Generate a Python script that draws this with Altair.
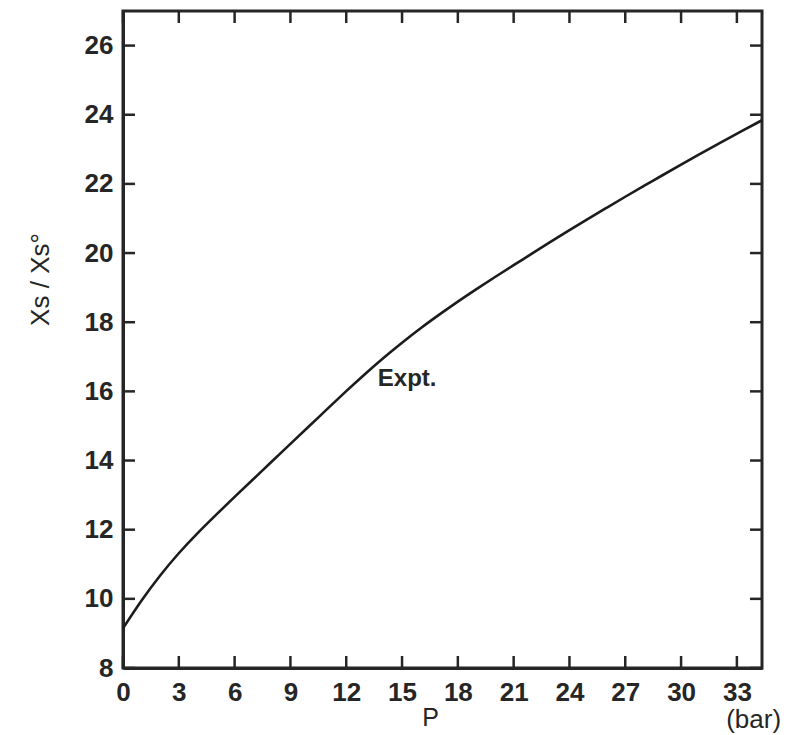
import altair as alt
import pandas as pd

# Curve
P_VALUES = [0, 1, 2, 3, 4, 5, 6, 7, 8, 9, 10, 11, 12, 13, 14, 15, 16, 17, 18, 19, 20,
            21, 22, 23, 24, 25, 26, 27, 28, 29, 30, 31, 32, 33, 34.35]
RATIO = [9.15, 9.97, 10.69, 11.33, 11.9, 12.43, 12.95, 13.46, 13.97, 14.48, 14.99, 15.5,
         16.01, 16.5, 16.97, 17.41, 17.83, 18.22, 18.6, 18.96, 19.31, 19.65, 19.99, 20.33,
         20.66, 20.99, 21.31, 21.63, 21.94, 22.25, 22.56, 22.86, 23.16, 23.45, 23.84]

X_TICKS = [0, 3, 6, 9, 12, 15, 18, 21, 24, 27, 30, 33]
Y_TICKS = [8, 10, 12, 14, 16, 18, 20, 22, 24, 26]
X_DOMAIN = [0, 34.35]
Y_DOMAIN = [8, 27]

W, H = 639, 657
INK = "#262626"
FONT = "Liberation Sans"
TICK_LEN = 12

curve = pd.DataFrame({"P": P_VALUES, "R": RATIO})
xt = pd.DataFrame({"P": X_TICKS})
yt = pd.DataFrame({"R": Y_TICKS})

xs = alt.Scale(domain=X_DOMAIN, nice=False, zero=False)
ys = alt.Scale(domain=Y_DOMAIN, nice=False, zero=False)

line = alt.Chart(curve).mark_line(color="#1c1c1c", strokeWidth=2.6, interpolate="basis").encode(
    x=alt.X("P:Q", scale=xs, axis=alt.Axis(
        values=X_TICKS, title="P", ticks=False, labelPadding=11, grid=False,
        domainColor=INK, domainWidth=3, labelFont=FONT, labelFontSize=26,
        labelFontWeight="bold", labelColor=INK, titleFont=FONT, titleFontSize=25,
        titleFontWeight="normal", titleColor=INK, titleX=307, titleY=49,
        titleBaseline="middle", labelFlush=False)),
    y=alt.Y("R:Q", scale=ys, axis=alt.Axis(
        values=Y_TICKS, title="Xs / Xs°", ticks=False, labelPadding=10, grid=False,
        domainColor=INK, domainWidth=3, labelFont=FONT, labelFontSize=26,
        labelFontWeight="bold", labelColor=INK, titleFont=FONT, titleFontSize=26,
        titleFontWeight="normal", titleColor=INK, titleAngle=270, titleX=-83, titleY=268,
        titleAlign="center", titleBaseline="middle", labelFlush=False)),
)

bottom_ticks = alt.Chart(xt).mark_rule(color=INK, strokeWidth=2.5).encode(
    x="P:Q", y=alt.value(H), y2=alt.value(H - TICK_LEN))
top_ticks = alt.Chart(xt).mark_rule(color=INK, strokeWidth=2.5).encode(
    x="P:Q", y=alt.value(0), y2=alt.value(TICK_LEN))
left_ticks = alt.Chart(yt).mark_rule(color=INK, strokeWidth=2.5).encode(
    y="R:Q", x=alt.value(0), x2=alt.value(TICK_LEN))
right_ticks = alt.Chart(yt).mark_rule(color=INK, strokeWidth=2.5).encode(
    y="R:Q", x=alt.value(W), x2=alt.value(W - TICK_LEN))

expt = alt.Chart(pd.DataFrame({"P": [13.7], "R": [16.35], "t": ["Expt."]})).mark_text(
    align="left", baseline="middle", font=FONT, fontSize=24, fontWeight="bold", color=INK
).encode(x="P:Q", y="R:Q", text="t:N")

bar = alt.Chart(pd.DataFrame({"P": [33.9], "R": [8], "t": ["(bar)"]})).mark_text(
    align="center", baseline="middle", font=FONT, fontSize=26, color=INK, dy=52
).encode(x="P:Q", y="R:Q", text="t:N")

chart = alt.layer(line, bottom_ticks, top_ticks, left_ticks, right_ticks, expt, bar).properties(
    width=W, height=H,
    padding={"left": 123, "top": 11, "right": 27, "bottom": 67},
    autosize=alt.AutoSizeParams(type="none"),
    background="white",
).configure_view(stroke=INK, strokeWidth=3)

chart.save("out.html", embed_options={"renderer": "svg", "actions": False})
